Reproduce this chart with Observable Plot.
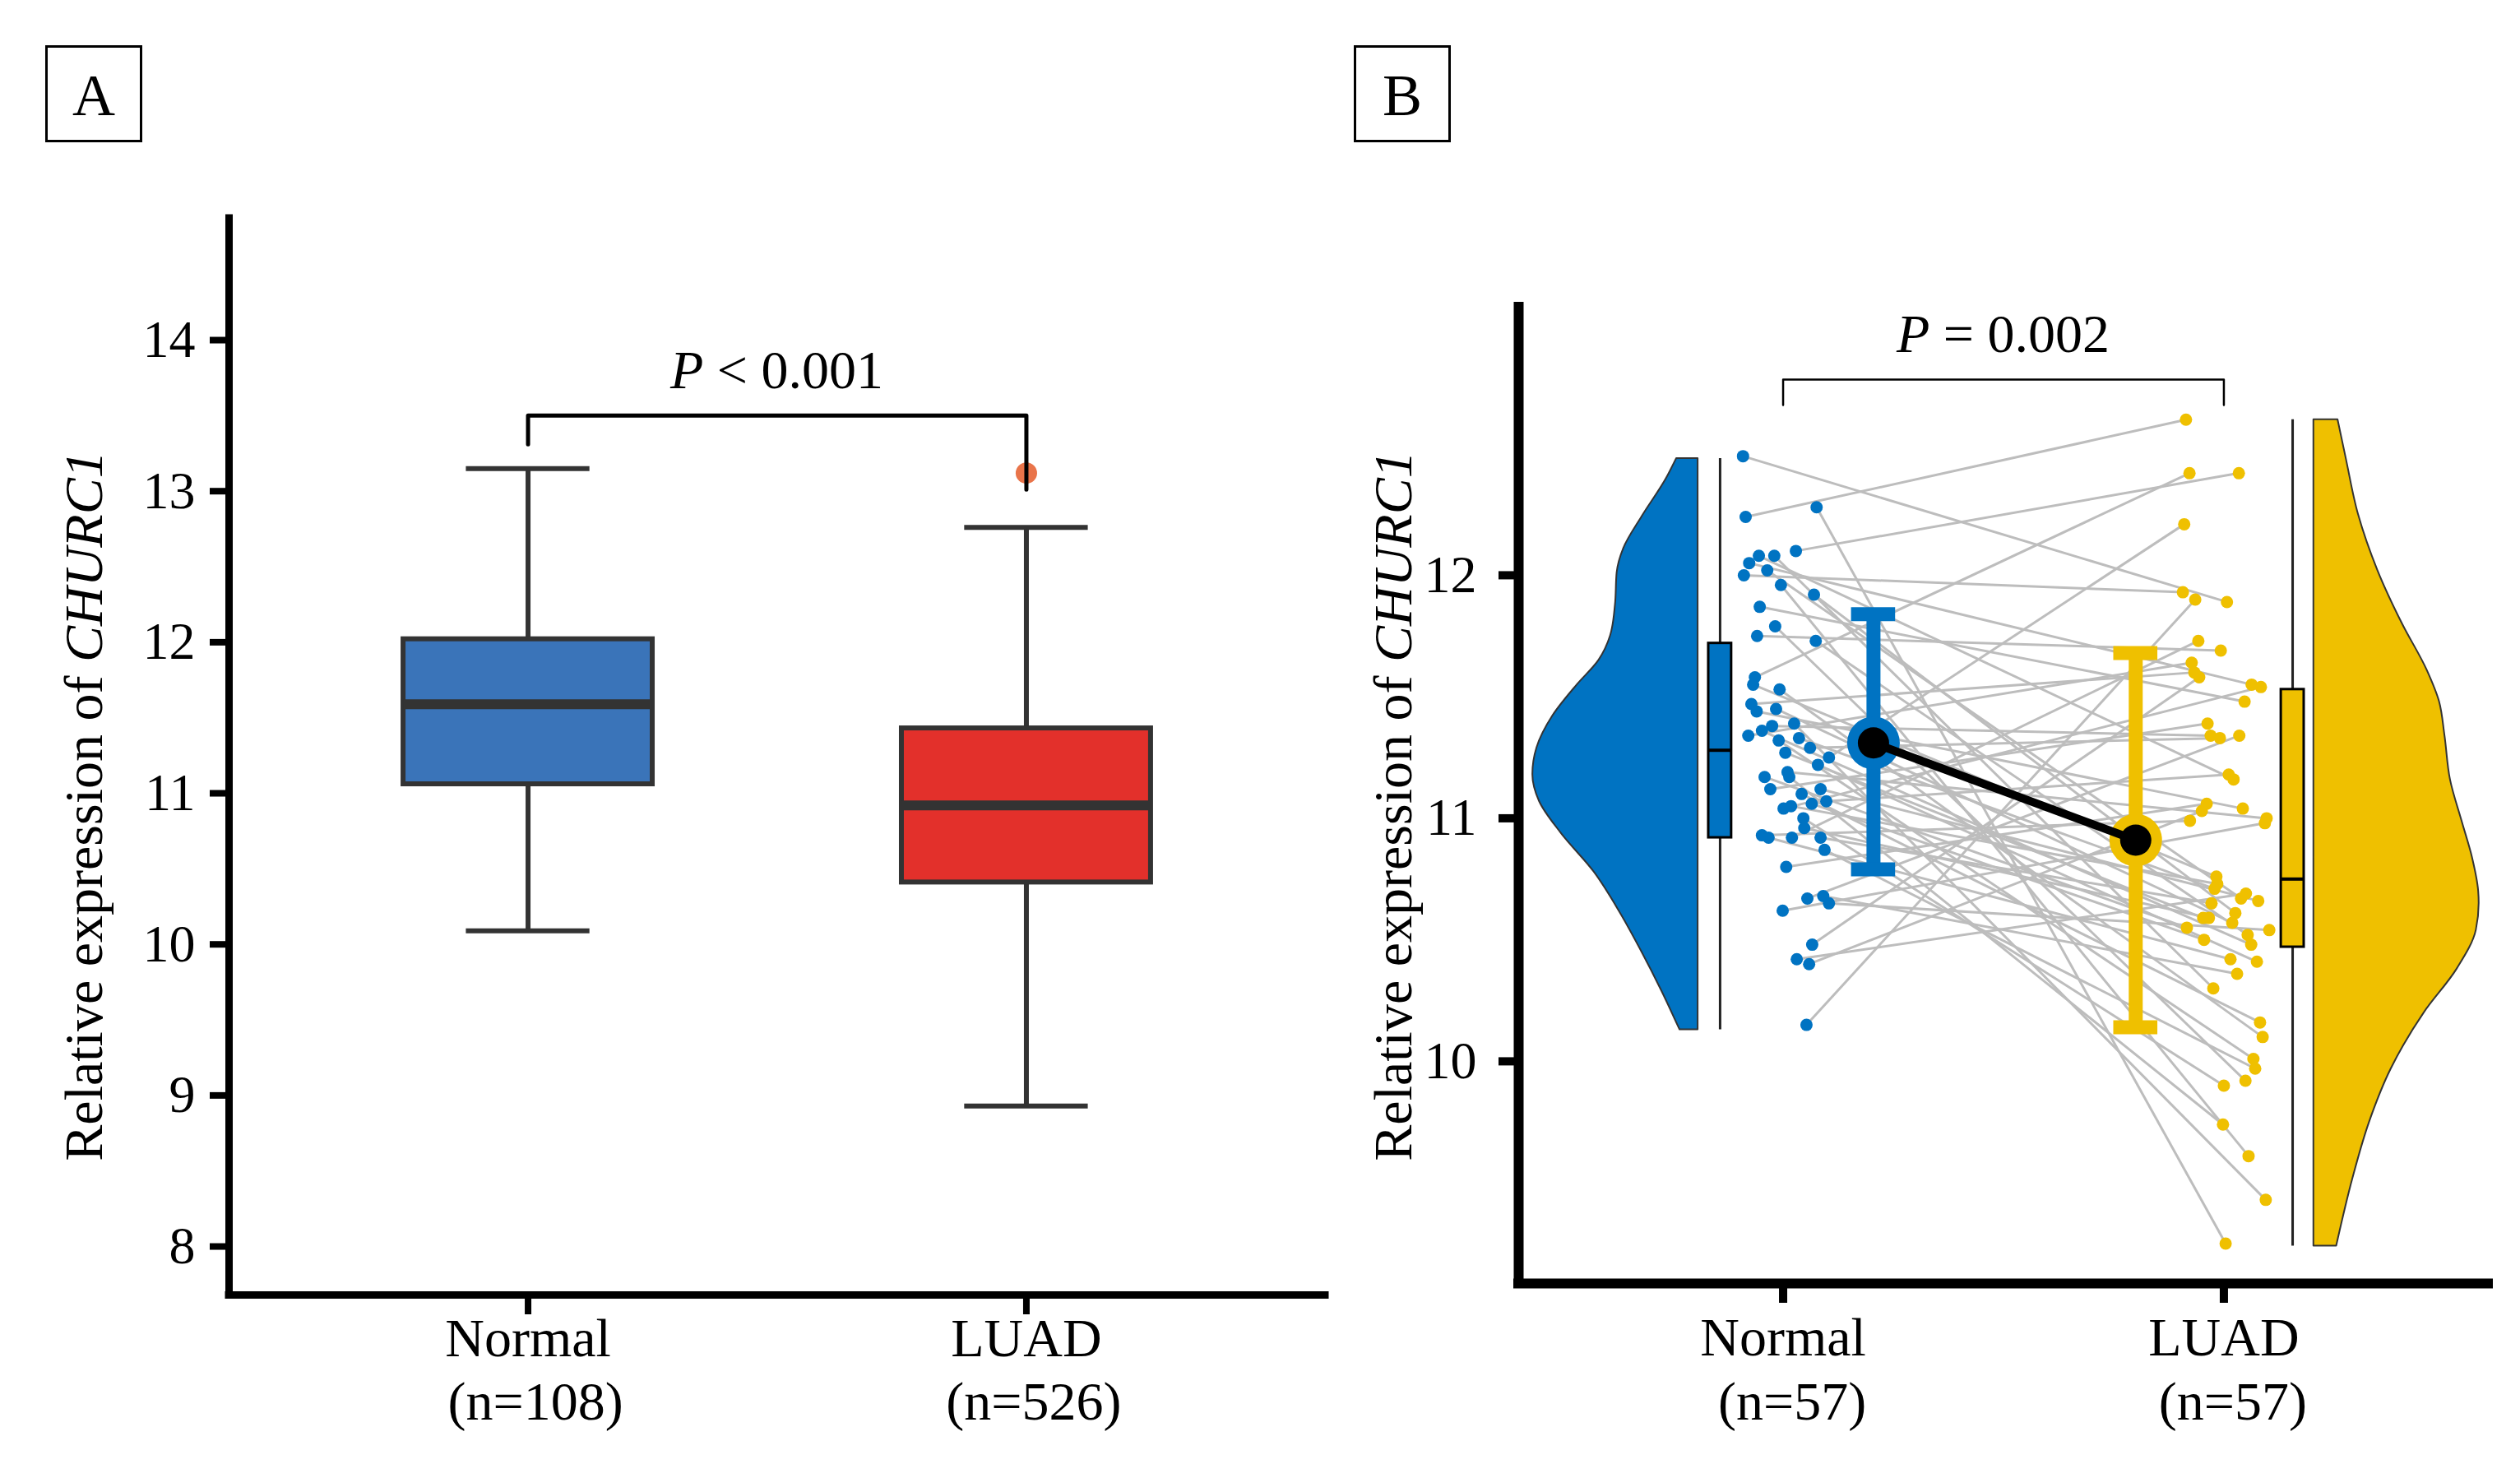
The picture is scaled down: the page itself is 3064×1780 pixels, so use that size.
<!DOCTYPE html>
<html><head><meta charset="utf-8">
<script src="https://cdn.jsdelivr.net/npm/d3@7"></script>
<script src="https://cdn.jsdelivr.net/npm/@observablehq/plot@0.6"></script>
<style>
html,body{margin:0;padding:0;background:#fff;}
#page{position:relative;width:3064px;height:1780px;overflow:hidden;font-family:"Liberation Serif","Times New Roman",Times,serif;}
.panel{position:absolute;top:0;}
.tag{position:absolute;width:112px;height:112px;border:3px solid #000;font-size:72px;line-height:116px;text-align:center;color:#000;}
</style></head><body><div id="page">
<div class="tag" style="left:55px;top:55px">A</div>
<div class="tag" style="left:1646px;top:55px">B</div>
<div id="pa" class="panel" style="left:0px"></div>
<div id="pb" class="panel" style="left:1620px"></div>
</div>
<script>
const FONT = '"Liberation Serif", "Times New Roman", Times, serif';

// ---------- shared ----------
const groups = ["Normal", "LUAD"];
const yTitle = ["Relative expression of ", "CHURC1"];

// ---------- Panel A (boxplot, n=108 vs n=526) ----------
const groupNA = ["(n=108)", "(n=526)"];
const ticksA = [8, 9, 10, 11, 12, 13, 14];
const boxLowA = [10.09, 8.93];
const boxQ1A = [11.06, 10.41];
const boxMedA = [11.59, 10.92];
const boxQ3A = [12.02, 11.43];
const boxHighA = [13.15, 12.76];
const colorsA = ["#3A74B9", "#E3302B"];
const outlierGroupA = [2];
const outlierValueA = [13.12];
const bracketA = [{x: 1, y: 13.31}, {x: 1, y: 13.50}, {x: 2, y: 13.50}, {x: 2, y: 13.01}];
const pLabelA = {x: 1.5, y: 13.68, italic: "P", rest: " < 0.001"};

// ---------- Panel B (paired raincloud, n=57) ----------
const groupNB = ["(n=57)", "(n=57)"];
const ticksB = [10, 11, 12];
const colorsB = ["#0073C2", "#EFC000"];
const normalExpr = [12.49,12.28,12.24,12.10,12.08,12.08,12.05,12.02,12.00,11.96,11.92,11.87,11.79,11.75,11.73,11.58,11.55,11.53,11.47,11.45,11.44,11.39,11.38,11.36,11.34,11.33,11.32,11.29,11.27,11.25,11.22,11.19,11.17,11.17,11.12,11.12,11.10,11.07,11.06,11.05,11.04,11.00,10.96,10.93,10.92,10.92,10.92,10.87,10.80,10.68,10.67,10.65,10.62,10.48,10.42,10.40,10.15];
const normalJitter = [-0.091,0.076,-0.085,0.029,-0.055,-0.020,-0.077,-0.036,-0.089,-0.005,0.070,-0.053,-0.018,-0.059,0.074,-0.064,-0.068,-0.008,-0.072,-0.016,-0.060,0.025,-0.025,-0.048,-0.079,0.036,-0.010,0.061,0.005,0.104,0.079,0.010,-0.042,0.014,-0.029,0.085,0.042,0.098,0.065,0.018,0.001,0.046,0.048,-0.048,-0.033,0.020,0.085,0.094,0.007,0.091,0.055,0.104,-0.001,0.066,0.031,0.059,0.053];
const luadExpr = [12.64,12.42,12.42,12.21,11.93,11.90,11.89,11.73,11.69,11.64,11.60,11.58,11.55,11.54,11.48,11.39,11.34,11.34,11.33,11.18,11.16,11.06,11.04,11.03,11.00,10.99,10.98,10.76,10.73,10.71,10.67,10.66,10.65,10.61,10.59,10.59,10.57,10.55,10.54,10.52,10.50,10.48,10.42,10.41,10.36,10.30,10.16,10.10,10.01,9.97,9.92,9.90,9.74,9.61,9.43,9.25,10.69];
const luadJitter = [-0.086,-0.078,0.034,-0.090,-0.093,-0.065,0.007,-0.058,-0.007,-0.073,-0.067,-0.056,0.063,0.084,0.047,-0.037,-0.030,0.035,-0.009,0.011,0.022,-0.039,0.043,-0.050,0.097,-0.077,0.093,-0.017,-0.015,-0.021,0.039,0.078,-0.028,0.026,-0.047,-0.034,0.019,-0.084,0.103,0.054,-0.045,0.062,0.015,0.075,0.030,-0.024,0.082,0.088,0.067,0.071,0.049,0.000,-0.002,0.056,0.095,0.004,0.050];
const pairLuad = [6,55,0,2,20,45,12,30,4,53,33,14,50,8,39,1,27,47,10,36,22,54,16,41,9,29,48,18,34,3,43,24,37,52,15,31,46,19,40,28,13,51,35,25,42,7,32,49,21,44,17,38,26,11,56,23,5];
// violin outlines: [value, relative half-density]
const violinNormal = [[12.48,0.13],[12.40,0.19],[12.24,0.34],[12.11,0.45],[12.01,0.49],[11.88,0.50],[11.75,0.53],[11.65,0.60],[11.55,0.73],[11.42,0.88],[11.29,0.975],[11.18,1.0],[11.07,0.96],[10.94,0.83],[10.78,0.63],[10.61,0.47],[10.45,0.34],[10.29,0.22],[10.13,0.11]];
const violinLuad = [[12.64,0.146],[12.48,0.196],[12.25,0.27],[12.02,0.387],[11.80,0.536],[11.61,0.685],[11.48,0.76],[11.34,0.793],[11.16,0.826],[10.98,0.90],[10.84,0.959],[10.70,0.997],[10.65,1.0],[10.54,0.983],[10.38,0.867],[10.20,0.668],[9.97,0.469],[9.75,0.337],[9.52,0.237],[9.24,0.138]];
const violinEdge = [-0.193, 0.204];
const violinMaxWidth = 0.375;
const boxOffsetB = [-0.143, 0.156];
const boxLowB = [10.13, 9.24];
const boxQ1B = [10.92, 10.47];
const boxMedB = [11.28, 10.75];
const boxQ3B = [11.72, 11.53];
const boxHighB = [12.48, 12.64];
const meanOffsetB = [0.205, -0.2];
const meanB = [11.31, 10.91];
const meanLowB = [10.79, 10.14];
const meanHighB = [11.84, 11.68];
const bracketB = [{x: 1, y: 12.70}, {x: 1, y: 12.805}, {x: 2, y: 12.805}, {x: 2, y: 12.70}];
const pLabelB = {x: 1.5, y: 12.917, italic: "P", rest: " = 0.002"};

// ---------- helpers ----------
function addTitle(svg, x, y) {
  const t = d3.select(svg).append("text")
    .attr("transform", `translate(${x},${y}) rotate(-90)`)
    .attr("text-anchor", "middle").attr("font-family", FONT).attr("font-size", 66).attr("fill", "#000")
    .style("white-space", "pre");
  t.append("tspan").text(yTitle[0]);
  t.append("tspan").attr("font-style", "italic").text(yTitle[1]);
}
function addP(svg, chart, lab) {
  const t = d3.select(svg).append("text")
    .attr("x", chart.scale("x").apply(lab.x)).attr("y", chart.scale("y").apply(lab.y))
    .attr("text-anchor", "middle").attr("font-family", FONT).attr("font-size", 66).attr("fill", "#000")
    .style("white-space", "pre");
  t.append("tspan").attr("font-style", "italic").text(lab.italic);
  t.append("tspan").text(lab.rest);
}
const intFmt = d => String(d);

// ---------- build Panel A ----------
const boxesA = groups.map((g, i) => ({g, n: groupNA[i], x: i + 1, low: boxLowA[i], q1: boxQ1A[i], med: boxMedA[i], q3: boxQ3A[i], high: boxHighA[i], color: colorsA[i]}));
const outliersA = outlierGroupA.map((x, i) => ({x, y: outlierValueA[i]}));
const yDomA = [7.679, 14.806];
const chartA = Plot.plot({
  width: 1620, height: 1780,
  marginLeft: 278, marginRight: 9, marginTop: 265, marginBottom: 206,
  x: {domain: [0.4, 2.6]},
  y: {domain: yDomA},
  color: {type: "identity"},
  style: {fontFamily: FONT, fontSize: "64px", color: "#000", background: "transparent", overflow: "visible"},
  marks: [
    Plot.ruleX(boxesA, {x: "x", y1: "low", y2: "high", stroke: "#333", strokeWidth: 6}),
    Plot.ruleY(boxesA, {y: "low", x1: d => d.x - 0.124, x2: d => d.x + 0.124, stroke: "#333", strokeWidth: 6}),
    Plot.ruleY(boxesA, {y: "high", x1: d => d.x - 0.124, x2: d => d.x + 0.124, stroke: "#333", strokeWidth: 6}),
    Plot.rect(boxesA, {x1: d => d.x - 0.25, x2: d => d.x + 0.25, y1: "q1", y2: "q3", fill: "color", stroke: "#333", strokeWidth: 6}),
    Plot.ruleY(boxesA, {y: "med", x1: d => d.x - 0.25, x2: d => d.x + 0.25, stroke: "#333", strokeWidth: 12}),
    Plot.dot(outliersA, {x: "x", y: "y", r: 13, fill: "#E9744A"}),
    Plot.line(bracketA, {x: "x", y: "y", stroke: "#000", strokeWidth: 5}),
    Plot.ruleX([0.4], {stroke: "#000", strokeWidth: 9, strokeLinecap: "square"}),
    Plot.ruleY([yDomA[0]], {stroke: "#000", strokeWidth: 9, strokeLinecap: "square"}),
    Plot.axisY({ticks: ticksA, tickFormat: intFmt, tickSize: 23, tickPadding: 18, strokeWidth: 8, fontSize: 64, label: null, stroke: "#000"}),
    Plot.axisX({ticks: [1, 2], tickSize: 24, strokeWidth: 8, tickFormat: () => "", label: null, stroke: "#000"}),
    Plot.text(boxesA, {x: "x", text: "g", frameAnchor: "bottom", lineAnchor: "bottom", dy: 74, fontSize: 66, fill: "#000"}),
    Plot.text(boxesA, {x: "x", text: "n", frameAnchor: "bottom", lineAnchor: "bottom", dy: 151, dx: 9, fontSize: 66, fill: "#000"})
  ]
});
addTitle(chartA, 124, 980);
addP(chartA, chartA, pLabelA);
document.getElementById("pa").appendChild(chartA);

// ---------- build Panel B ----------
const ptsN = normalExpr.map((v, i) => ({x: 1 + normalJitter[i], y: v}));
const ptsL = luadExpr.map((v, i) => ({x: 2 + luadJitter[i], y: v}));
const links = ptsN.map((p, i) => ({x1: p.x, y1: p.y, x2: ptsL[pairLuad[i]].x, y2: ptsL[pairLuad[i]].y}));
const violins = [violinNormal, violinLuad].map((prof, i) => prof.map(([v, w]) => {
  const edge = i + 1 + violinEdge[i];
  const dir = i === 0 ? -1 : 1;
  return {y: v, xa: edge, xb: edge + dir * w * violinMaxWidth, color: colorsB[i]};
}));
const boxesB = groups.map((g, i) => ({g, n: groupNB[i], x: i + 1 + boxOffsetB[i], low: boxLowB[i], q1: boxQ1B[i], med: boxMedB[i], q3: boxQ3B[i], high: boxHighB[i], color: colorsB[i], tx: i + 1}));
const meansB = groups.map((g, i) => ({x: i + 1 + meanOffsetB[i], m: meanB[i], lo: meanLowB[i], hi: meanHighB[i], color: colorsB[i]}));
const yDomB = [9.086, 13.103];
const bw = 0.026, cap = 0.05;
const chartB = Plot.plot({
  width: 1444, height: 1780,
  marginLeft: 226, marginRight: 39, marginTop: 373, marginBottom: 220,
  x: {domain: [0.4, 2.6]},
  y: {domain: yDomB},
  color: {type: "identity"},
  style: {fontFamily: FONT, fontSize: "64px", color: "#000", background: "transparent", overflow: "visible"},
  marks: [
    Plot.link(links, {x1: "x1", y1: "y1", x2: "x2", y2: "y2", stroke: "#BDBDBD", strokeWidth: 3}),
    ...violins.map(vd => Plot.areaX(vd, {y: "y", x1: "xa", x2: "xb", fill: "color", stroke: "#333", strokeWidth: 2, curve: "monotone-y"})),
    Plot.ruleX(boxesB, {x: "x", y1: "low", y2: "high", stroke: "#222", strokeWidth: 3}),
    Plot.rect(boxesB, {x1: d => d.x - bw, x2: d => d.x + bw, y1: "q1", y2: "q3", fill: "color", stroke: "#000", strokeWidth: 3}),
    Plot.ruleY(boxesB, {y: "med", x1: d => d.x - bw, x2: d => d.x + bw, stroke: "#000", strokeWidth: 4}),
    Plot.dot(ptsN, {x: "x", y: "y", r: 7.5, fill: colorsB[0]}),
    Plot.dot(ptsL, {x: "x", y: "y", r: 7.5, fill: colorsB[1]}),
    Plot.ruleX(meansB, {x: "x", y1: "lo", y2: "hi", stroke: "color", strokeWidth: 17}),
    Plot.ruleY(meansB, {y: "lo", x1: d => d.x - cap, x2: d => d.x + cap, stroke: "color", strokeWidth: 17}),
    Plot.ruleY(meansB, {y: "hi", x1: d => d.x - cap, x2: d => d.x + cap, stroke: "color", strokeWidth: 17}),
    Plot.dot(meansB, {x: "x", y: "m", r: 32, fill: "color"}),
    Plot.line(meansB, {x: "x", y: "m", stroke: "#000", strokeWidth: 10}),
    Plot.dot(meansB, {x: "x", y: "m", r: 19, fill: "#000"}),
    Plot.line(bracketB, {x: "x", y: "y", stroke: "#000", strokeWidth: 2.5}),
    Plot.ruleX([0.4], {stroke: "#000", strokeWidth: 12, strokeLinecap: "square"}),
    Plot.ruleY([yDomB[0]], {stroke: "#000", strokeWidth: 12, strokeLinecap: "square"}),
    Plot.axisY({ticks: ticksB, tickFormat: intFmt, tickSize: 24, tickPadding: 27, strokeWidth: 10, fontSize: 64, label: null, stroke: "#000"}),
    Plot.axisX({ticks: [1, 2], tickSize: 24, strokeWidth: 10, tickFormat: () => "", label: null, stroke: "#000"}),
    Plot.text(boxesB, {x: "tx", text: "g", frameAnchor: "bottom", lineAnchor: "bottom", dy: 87, fontSize: 66, fill: "#000"}),
    Plot.text(boxesB, {x: "tx", text: "n", frameAnchor: "bottom", lineAnchor: "bottom", dy: 165, dx: 11, fontSize: 66, fill: "#000"})
  ]
});
addTitle(chartB, 96, 980);
addP(chartB, chartB, pLabelB);
document.getElementById("pb").appendChild(chartB);
</script>
</body></html>
